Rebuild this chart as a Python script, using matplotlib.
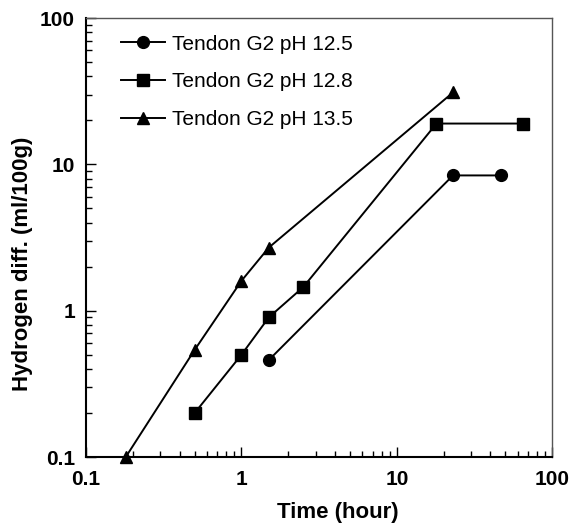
import matplotlib
matplotlib.use("Agg")
import matplotlib.pyplot as plt
from matplotlib.ticker import LogLocator, NullFormatter, FixedLocator, FixedFormatter

plt.rcParams['font.family'] = ['Liberation Sans', 'DejaVu Sans']

labels = ["Tendon G2 pH 12.5", "Tendon G2 pH 12.8", "Tendon G2 pH 13.5"]
x_125 = [1.5, 23, 47]
y_125 = [0.46, 8.4, 8.4]
x_128 = [0.5, 1.0, 1.5, 2.5, 18, 65]
y_128 = [0.2, 0.5, 0.9, 1.45, 19, 19]
x_135 = [0.18, 0.5, 1.0, 1.5, 23]
y_135 = [0.1, 0.54, 1.6, 2.7, 31]

fig = plt.figure(figsize=(5.74, 5.25), dpi=100)
ax = fig.add_axes([0.150, 0.1295, 0.812, 0.8362])

ax.plot(x_125, y_125, '-o', color='black', lw=1.4, ms=8.5, label=labels[0], clip_on=False)
ax.plot(x_128, y_128, '-s', color='black', lw=1.4, ms=8.5, label=labels[1], clip_on=False)
ax.plot(x_135, y_135, '-^', color='black', lw=1.4, ms=8.5, label=labels[2], clip_on=False)

ax.set_xscale('log')
ax.set_yscale('log')
ax.set_xlim(0.1, 100)
ax.set_ylim(0.1, 100)

ax.xaxis.set_major_locator(FixedLocator([0.1, 1, 10, 100]))
ax.xaxis.set_major_formatter(FixedFormatter(['0.1', '1', '10', '100']))
ax.yaxis.set_major_locator(FixedLocator([0.1, 1, 10, 100]))
ax.yaxis.set_major_formatter(FixedFormatter(['0.1', '1', '10', '100']))
ax.xaxis.set_minor_locator(LogLocator(base=10, subs=range(2, 10)))
ax.yaxis.set_minor_locator(LogLocator(base=10, subs=range(2, 10)))
ax.xaxis.set_minor_formatter(NullFormatter())
ax.yaxis.set_minor_formatter(NullFormatter())

ax.tick_params(which='both', direction='in', top=False, right=False, width=1)
ax.tick_params(which='major', length=7, labelsize=15)
ax.tick_params(axis='x', which='major', pad=9)
ax.tick_params(axis='y', which='major', pad=8)
ax.tick_params(which='minor', length=4)
for lab in ax.get_xticklabels() + ax.get_yticklabels():
    lab.set_fontweight('bold')

for side in ['left', 'bottom']:
    ax.spines[side].set_linewidth(1.5)
for side in ['top', 'right']:
    ax.spines[side].set_linewidth(1.0)
    ax.spines[side].set_color('#555555')

ax.set_xlabel('Time (hour)', fontsize=16, fontweight='bold', labelpad=10)
ax.set_ylabel('Hydrogen diff. (ml/100g)', fontsize=16, fontweight='bold', labelpad=5)
ax.xaxis.label.set_x(0.54)
ax.yaxis.label.set_y(0.44)

leg = ax.legend(loc='upper left', frameon=False, fontsize=15, handlelength=2.1,
                handletextpad=0.35, labelspacing=0.9, borderaxespad=0.0,
                borderpad=0.0, bbox_to_anchor=(0.075, 0.962))

fig.savefig('out.png', dpi=100)
